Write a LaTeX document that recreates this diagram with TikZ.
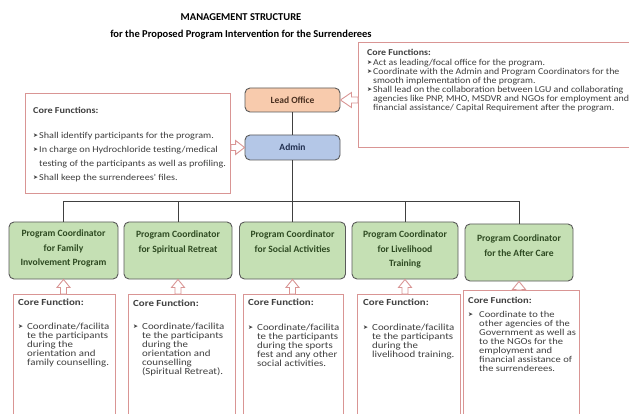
\documentclass[tikz,border=0pt]{standalone}
\usepackage{fontspec}
\setmainfont{Carlito}
\newfontfamily\dvfont{DejaVu Sans}
\newfontfamily\corefont{Carlito}[FakeStretch=1.13]
\newfontfamily\rightfont{Carlito}[FakeStretch=1.10]
\newfontfamily\botfont{Carlito}[FakeStretch=1.17]
\usetikzlibrary{calc}
\definecolor{leadfill}{HTML}{F8CBAD}
\definecolor{adminfill}{HTML}{B4C7E7}
\definecolor{coordfill}{HTML}{C5E0B4}
\definecolor{boxline}{HTML}{5A5A5A}
\definecolor{pinkline}{HTML}{D99594}
\definecolor{bodytext}{HTML}{3F3F3F}
\definecolor{greentext}{HTML}{2E4A22}
\definecolor{leadtext}{HTML}{4A3020}
\definecolor{admintext}{HTML}{1F2D4D}
\newcommand{\bul}[1]{\makebox[#1][l]{\dvfont\fontsize{6}{6}\selectfont\raisebox{0.3pt}{➤}}}
\newcommand{\ind}[1]{\hspace*{#1}}
\newcommand{\fl}{\rule{0pt}{7.5pt}}
\newcommand{\hollowup}[2]{%
  \draw[hollow] (#2.south) -- ++(6.5,8) -- ++(-3.5,0)
    -- ($(#1.north -| #2.south)+(3,0)$) -- ++(-6,0)
    -- ($(#2.south)+(-3,8)$) -- ++(-3.5,0) -- cycle;}
\tikzset{
  orgbox/.style={draw=boxline, line width=0.9pt, rounded corners=5pt, inner sep=0pt},
  coordbox/.style={orgbox, fill=coordfill, minimum height=57pt},
  ctext/.style={anchor=north, align=center, inner sep=0pt,
    font=\bfseries\fontsize{9.6}{14.5}\selectfont, text=greentext},
  corebox/.style={draw=pinkline, line width=0.9pt, fill=white, inner sep=0pt, anchor=north west},
  coretext/.style={anchor=north west, align=left, inner sep=0pt, text=bodytext},
  toptext/.style={coretext, font=\rightfont\fontsize{9}{9}\selectfont},
  bottext/.style={coretext, font=\botfont\fontsize{9.3}{9}\selectfont},
  hollow/.style={draw=pinkline, fill=white, line width=0.9pt, line join=miter},
  link/.style={draw=black!75, line width=1pt},
  titletext/.style={anchor=base, inner sep=0pt, font=\bfseries\fontsize{10.5}{12}\selectfont}
}
\begin{document}
\begin{tikzpicture}[x=1pt, y=-1pt]
\useasboundingbox (0,0) rectangle (629,414);
\clip (0,0) rectangle (629,414);
\fill[white] (0,0) rectangle (629,414);

% title
\node[titletext] (t1) at (241,20.5) {MANAGEMENT STRUCTURE};
\node[titletext] (t2) at (241,37.5) {for the Proposed Program Intervention for the Surrenderees};

% top boxes
\node[orgbox, fill=leadfill, minimum width=95pt, minimum height=24pt,
  font=\bfseries\fontsize{9.5}{11}\selectfont, text=leadtext] (lead) at (292.5,100) {Lead Office};
\node[orgbox, fill=adminfill, minimum width=95pt, minimum height=25pt,
  font=\bfseries\fontsize{9.5}{11}\selectfont, text=admintext] (admin) at (292.5,147.5) {Admin};

% core function boxes (top)
\node[corebox, minimum width=205pt, minimum height=100pt] (fl) at (25,93) {};
\node[coretext, font=\corefont\fontsize{9}{14}\selectfont] (flt) at (33,105.5)
  {\fl\textbf{Core Functions:}\\[11pt]
   \bul{6pt}Shall identify participants for the program.\\
   \bul{6pt}In charge on Hydrochloride testing/medical\\
   \ind{6pt}testing of the participants as well as profiling.\\
   \bul{6pt}Shall keep the surrenderees' files.};

\node[corebox, minimum width=300pt, minimum height=105pt] (fr) at (358,42) {};
\node[toptext] (frt) at (367,47.5)
  {\fl\textbf{Core Functions:}\\[1pt]
   \bul{6pt}Act as leading/focal office for the program.\\
   \bul{6pt}Coordinate with the Admin and Program Coordinators for the\\
   \ind{6pt}smooth implementation of the program.\\
   \bul{6pt}Shall lead on the collaboration between LGU and collaborating\\
   \ind{6pt}agencies like PNP, MHO, MSDVR and NGOs for employment and\\
   \ind{6pt}financial assistance/ Capital Requirement after the program.};

% connectors
\coordinate (bus) at ($(admin.south)+(0,41)$);
\draw[link] (lead.south) -- (admin.north);
\draw[link] (admin.south) -- (bus);

% coordinators
\node[coordbox, minimum width=109pt] (c1) at (63.5,250.5) {};
\node[coordbox, minimum width=108pt] (c2) at (178,250.5) {};
\node[coordbox, minimum width=106pt] (c3) at (292.5,250.5) {};
\node[coordbox, minimum width=106pt] (c4) at (405,250.5) {};
\node[coordbox, minimum width=108pt] (c5) at (519,252.5) {};
\node[ctext] (c1t) at ($(c1.north)+(0,7.5)$) {\fl Program Coordinator\\for Family\\Involvement Program};
\node[ctext] (c2t) at ($(c2.north)+(0,8.5)$) {\fl Program Coordinator\\for Spiritual Retreat};
\node[ctext] (c3t) at ($(c3.north)+(0,8.5)$) {\fl Program Coordinator\\for Social Activities};
\node[ctext] (c4t) at ($(c4.north)+(0,8.5)$) {\fl Program Coordinator\\for Livelihood\\Training};
\node[ctext] (c5t) at ($(c5.north)+(0,10.5)$) {\fl Program Coordinator\\for the After Care};
\foreach \c in {c1,c2,c3,c4,c5} \draw[link] (\c.north) |- (bus);

% core function boxes (bottom)
\node[corebox, minimum width=102pt, minimum height=130pt] (b1) at (13,294) {};
\node[corebox, minimum width=107pt, minimum height=130pt] (b2) at (128,294) {};
\node[corebox, minimum width=100pt, minimum height=130pt] (b3) at (243,294) {};
\node[corebox, minimum width=103pt, minimum height=130pt] (b4) at (357,294) {};
\node[corebox, minimum width=116pt, minimum height=130pt] (b5) at (463,290) {};

\node[bottext] (b1t) at (18,297.5)
  {\fl\textbf{Core Function:}\\[15pt]
   \bul{9pt}Coordinate/facilita\\ \ind{9pt}te the participants\\ \ind{9pt}during the\\
   \ind{9pt}orientation and\\ \ind{9pt}family counselling.};
\node[bottext] (b2t) at (133,298.5)
  {\fl\textbf{Core Function:}\\[14pt]
   \bul{9pt}Coordinate/facilita\\ \ind{9pt}te the participants\\ \ind{9pt}during the\\
   \ind{9pt}orientation and\\ \ind{9pt}counselling\\ \ind{9pt}(Spiritual Retreat).};
\node[bottext] (b3t) at (248,297.5)
  {\fl\textbf{Core Function:}\\[16pt]
   \bul{9pt}Coordinate/facilita\\ \ind{9pt}te the participants\\ \ind{9pt}during the sports\\
   \ind{9pt}fest and any other\\ \ind{9pt}social activities.};
\node[bottext] (b4t) at (363,297.5)
  {\fl\textbf{Core Function:}\\[16pt]
   \bul{9pt}Coordinate/facilita\\ \ind{9pt}te the participants\\ \ind{9pt}during the\\
   \ind{9pt}livelihood training.};
\node[bottext, font=\botfont\fontsize{9}{9}\selectfont] (b5t) at (468,295.5)
  {\fl\textbf{Core Function:}\\[5pt]
   \bul{11pt}Coordinate to the\\ \ind{11pt}other agencies of the\\ \ind{11pt}Government as well as\\
   \ind{11pt}to the NGOs for the\\ \ind{11pt}employment and\\ \ind{11pt}financial assistance of\\
   \ind{11pt}the surrenderees.};

% hollow arrows
\hollowup{b1}{c1}
\hollowup{b2}{c2}
\hollowup{b3}{c3}
\hollowup{b4}{c4}
\hollowup{b5}{c5}
\draw[hollow] (lead.east) -- ++(11,-7.5) -- ++(0,4.5)
  -- ($(fr.west |- lead.east)+(0,-3)$) -- ++(0,6)
  -- ($(lead.east)+(11,3)$) -- ++(0,4.5) -- cycle;
\draw[hollow] (admin.west) -- ++(-9,-7) -- ++(0,4)
  -- ($(fl.east |- admin.west)+(0,-3)$) -- ++(0,6)
  -- ($(admin.west)+(-9,3)$) -- ++(0,4) -- cycle;
\end{tikzpicture}
\end{document}
